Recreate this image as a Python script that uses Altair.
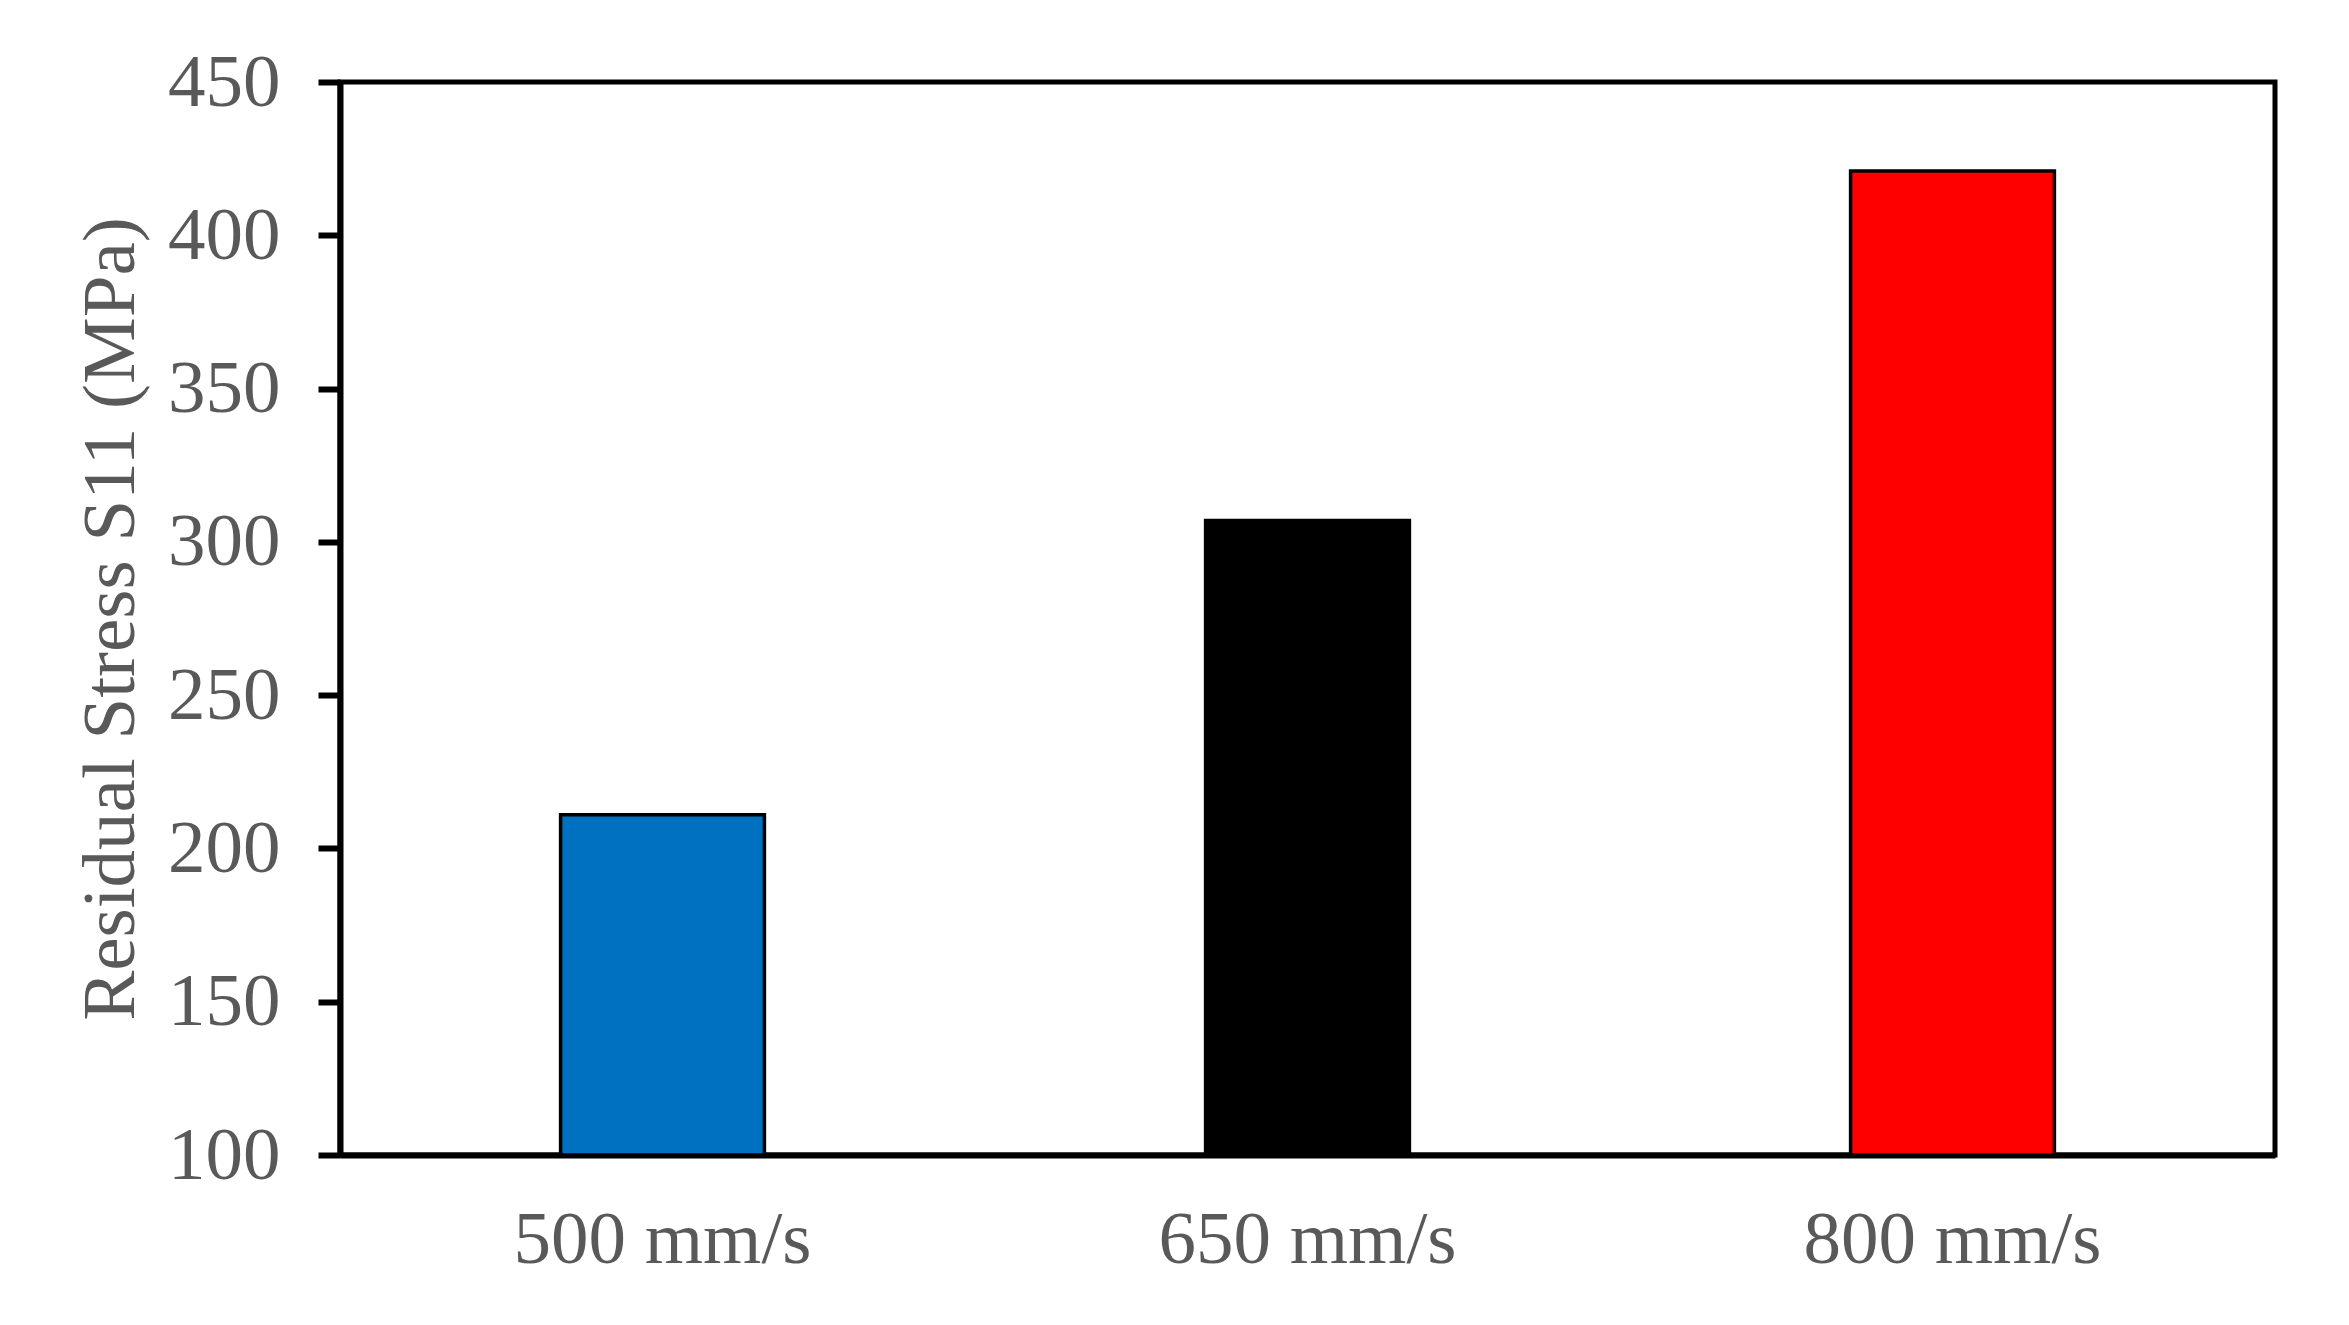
import altair as alt
import pandas as pd

categories = ["500 mm/s", "650 mm/s", "800 mm/s"]
values = [211, 307, 421]
colors = ["#0070C0", "#000000", "#FF0000"]
y_ticks = [100, 150, 200, 250, 300, 350, 400, 450]

df = pd.DataFrame({"speed": categories, "stress": values, "color": colors})

FONT = "Liberation Serif"
GREY = "#595959"

chart = alt.Chart(df).mark_bar(stroke="black", strokeWidth=3.5).encode(
    x=alt.X("speed:N", sort=categories,
            scale=alt.Scale(paddingInner=0.684, paddingOuter=0.342),
            axis=alt.Axis(title=None, labelAngle=0, ticks=False, labelPadding=48, labelLimit=0,
                          labelFont=FONT, labelFontSize=75, labelColor=GREY,
                          domainColor="black", domainWidth=6)),
    y=alt.Y("stress:Q", scale=alt.Scale(domain=[100, 450], zero=False, nice=False),
            axis=alt.Axis(title="Residual Stress S11 (MPa)", values=y_ticks, grid=False,
                          tickSize=22, tickWidth=6, tickColor="black",
                          domainColor="black", domainWidth=6,
                          labelFont=FONT, labelFontSize=75, labelColor=GREY, labelPadding=38,
                          titleFont=FONT, titleFontSize=75, titleColor=GREY,
                          titleFontWeight="normal", titlePadding=18)),
    y2=alt.datum(100),
    color=alt.Color("color:N", scale=None, legend=None),
).properties(
    width=1935, height=1073,
    autosize=alt.AutoSizeParams(type="none"),
    padding={"left": 332, "top": 74, "right": 60, "bottom": 140},
).configure(
    background="white",
    view=alt.ViewConfig(stroke="black", strokeWidth=5),
)

chart.save("out.html", embed_options={"renderer": "svg", "actions": False})
